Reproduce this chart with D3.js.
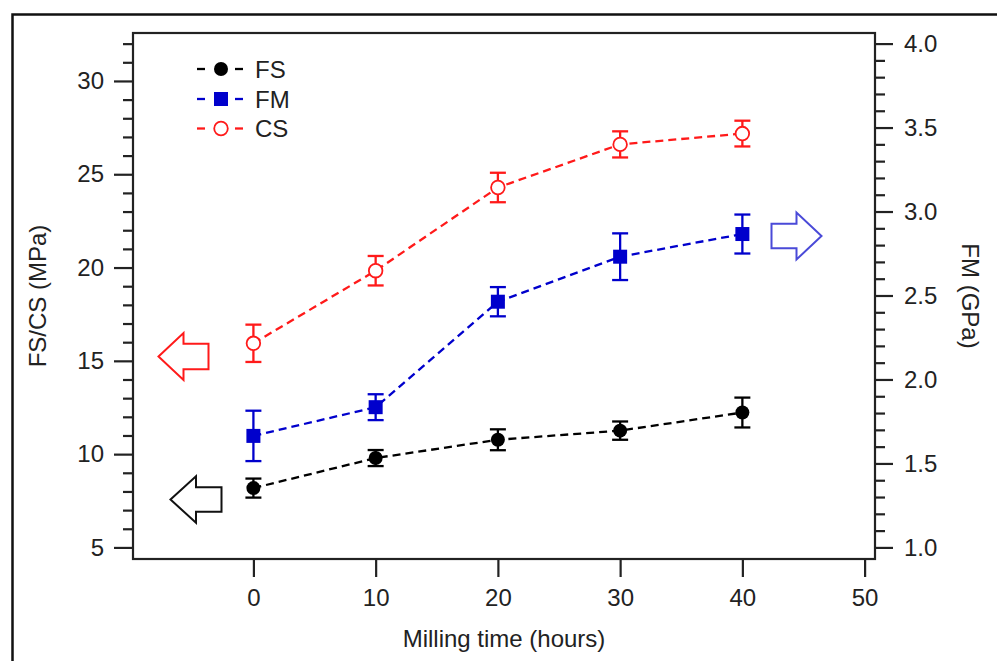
<!DOCTYPE html>
<html><head><meta charset="utf-8">
<script src="https://cdn.jsdelivr.net/npm/d3@7"></script>
<style>
html,body{margin:0;padding:0;background:#fff;}
svg{display:block;}
text{font-family:"Liberation Sans",Arial,sans-serif;fill:#222;}
</style></head>
<body>
<svg id="chart" width="997" height="661"></svg>
<script>
// ---- data ----
const millingTime = [0, 10, 20, 30, 40];
const fsValues = [8.18, 9.79, 10.77, 11.26, 12.23];
const fsErrors = [0.51, 0.43, 0.56, 0.49, 0.80];
const csValues = [15.94, 19.83, 24.29, 26.60, 27.18];
const csErrors = [1.00, 0.79, 0.79, 0.70, 0.69];
const fmValues = [1.664, 1.835, 2.463, 2.731, 2.866];
const fmErrors = [0.150, 0.077, 0.087, 0.139, 0.116];
const xTicks = [0, 10, 20, 30, 40, 50];
const leftTicks = [5, 10, 15, 20, 25, 30];
const rightTicks = [1.0, 1.5, 2.0, 2.5, 3.0, 3.5, 4.0];
const seriesNames = ["FS", "FM", "CS"];

// ---- layout ----
const svg = d3.select("#chart");
const box = {left: 133, right: 875, top: 33, bottom: 559};
const x = d3.scaleLinear().domain([-9.85, 50.85]).range([box.left, box.right]);
const yL = d3.scaleLinear().domain([4.38, 32.57]).range([box.bottom, box.top]);
const yR = d3.scaleLinear().domain([0.931, 4.063]).range([box.bottom, box.top]);
const FONT = 24;
const RED = "#ff1a1a", BLUE = "#0000cc", BLACK = "#000";

// outer frame
svg.append("rect").attr("x", 12.5).attr("y", 14.5).attr("width", 1100).attr("height", 800)
  .attr("fill", "none").attr("stroke", "#111").attr("stroke-width", 2.5);

// plot box
svg.append("rect").attr("x", box.left).attr("y", box.top)
  .attr("width", box.right - box.left).attr("height", box.bottom - box.top)
  .attr("fill", "none").attr("stroke", "#222").attr("stroke-width", 2.2);

// axes helpers
function styleAxis(g) {
  g.select(".domain").remove();
  g.selectAll("line").attr("stroke", "#222").attr("stroke-width", 2.2);
  g.selectAll("text").attr("font-size", FONT).style("fill", "#222");
}
// x axis
const gx = svg.append("g").attr("transform", `translate(0,${box.bottom})`)
  .call(d3.axisBottom(x).tickValues(xTicks).tickSize(18).tickPadding(12).tickFormat(d3.format("d")));
styleAxis(gx);

// left axis minor & major
const leftMinor = d3.range(5, 33, 1).filter(v => !leftTicks.includes(v));
const gLm = svg.append("g").attr("transform", `translate(${box.left},0)`)
  .call(d3.axisLeft(yL).tickValues(leftMinor).tickSize(10).tickFormat(""));
styleAxis(gLm);
const gL = svg.append("g").attr("transform", `translate(${box.left},0)`)
  .call(d3.axisLeft(yL).tickValues(leftTicks).tickSize(19).tickPadding(10).tickFormat(d3.format("d")));
styleAxis(gL);

// right axis
const rightMinor = d3.range(10, 41, 1).map(v => v / 10).filter(v => Math.round(v * 10) % 5 !== 0);
const gRm = svg.append("g").attr("transform", `translate(${box.right},0)`)
  .call(d3.axisRight(yR).tickValues(rightMinor).tickSize(10).tickFormat(""));
styleAxis(gRm);
const gR = svg.append("g").attr("transform", `translate(${box.right},0)`)
  .call(d3.axisRight(yR).tickValues(rightTicks).tickSize(18).tickPadding(11).tickFormat(d3.format(".1f")));
styleAxis(gR);

// axis titles
svg.append("text").attr("x", (box.left + box.right) / 2).attr("y", 647)
  .attr("text-anchor", "middle").attr("font-size", FONT).text("Milling time (hours)");
svg.append("text").attr("transform", `translate(46,${(box.top + box.bottom) / 2}) rotate(-90)`)
  .attr("text-anchor", "middle").attr("font-size", FONT).text("FS/CS (MPa)");
svg.append("text").attr("transform", `translate(962,${(box.top + box.bottom) / 2}) rotate(90)`)
  .attr("text-anchor", "middle").attr("font-size", FONT).text("FM (GPa)");

// series
const series = [
  {name: "FS", vals: fsValues, errs: fsErrors, y: yL, color: BLACK, marker: "dot"},
  {name: "FM", vals: fmValues, errs: fmErrors, y: yR, color: BLUE, marker: "square"},
  {name: "CS", vals: csValues, errs: csErrors, y: yL, color: RED, marker: "ring"}
];

function drawMarker(g, cx, cy, s) {
  if (s.marker === "dot") {
    g.append("circle").attr("cx", cx).attr("cy", cy).attr("r", 7).attr("fill", s.color);
  } else if (s.marker === "square") {
    g.append("rect").attr("x", cx - 7).attr("y", cy - 7).attr("width", 14).attr("height", 14).attr("fill", s.color);
  } else {
    g.append("circle").attr("cx", cx).attr("cy", cy).attr("r", 6.8).attr("fill", "#fff")
      .attr("stroke", s.color).attr("stroke-width", 1.8);
  }
}

series.forEach(s => {
  const g = svg.append("g");
  const pts = millingTime.map((t, i) => [x(t), s.y(s.vals[i])]);
  g.append("path").attr("d", d3.line()(pts)).attr("fill", "none")
    .attr("stroke", s.color).attr("stroke-width", 2.3).attr("stroke-dasharray", "8,5");
  millingTime.forEach((t, i) => {
    const cx = x(t), hi = s.y(s.vals[i] + s.errs[i]), lo = s.y(s.vals[i] - s.errs[i]);
    g.append("line").attr("x1", cx).attr("x2", cx).attr("y1", hi).attr("y2", lo)
      .attr("stroke", s.color).attr("stroke-width", 2.3);
    [hi, lo].forEach(yy => g.append("line").attr("x1", cx - 8).attr("x2", cx + 8)
      .attr("y1", yy).attr("y2", yy).attr("stroke", s.color).attr("stroke-width", 2.3));
    drawMarker(g, cx, s.y(s.vals[i]), s);
  });
});

// legend
const legendRows = [69, 99, 128.5];
seriesNames.forEach((nm, i) => {
  const s = series.find(d => d.name === nm);
  const g = svg.append("g");
  const yy = legendRows[i];
  g.append("line").attr("x1", 197).attr("x2", 205).attr("y1", yy).attr("y2", yy).attr("stroke", s.color).attr("stroke-width", 2.3);
  g.append("line").attr("x1", 235).attr("x2", 243).attr("y1", yy).attr("y2", yy).attr("stroke", s.color).attr("stroke-width", 2.3);
  drawMarker(g, 221, yy, s);
  g.append("text").attr("x", 255).attr("y", yy + 8.5).attr("font-size", FONT).text(nm);
});

// arrows
function leftArrow(tip, cy, base, tail, headHalf, shaftHalf) {
  return [[tip, cy], [base, cy - headHalf], [base, cy - shaftHalf], [tail, cy - shaftHalf],
          [tail, cy + shaftHalf], [base, cy + shaftHalf], [base, cy + headHalf]];
}
const arrowPath = d3.line().curve(d3.curveLinearClosed);
svg.append("path").attr("d", arrowPath(leftArrow(158.5, 356.5, 183.5, 208.5, 23.5, 12.7)))
  .attr("fill", "none").attr("stroke", RED).attr("stroke-width", 2);
svg.append("path").attr("d", arrowPath(leftArrow(170.5, 499.5, 196, 221.5, 23.3, 12.2)))
  .attr("fill", "none").attr("stroke", "#111").attr("stroke-width", 2);
svg.append("path").attr("d", arrowPath(leftArrow(821.5, 236, 796.5, 771.5, 23.5, 12.3)))
  .attr("fill", "none").attr("stroke", "#4a4ad8").attr("stroke-width", 2);
</script>
</body></html>
